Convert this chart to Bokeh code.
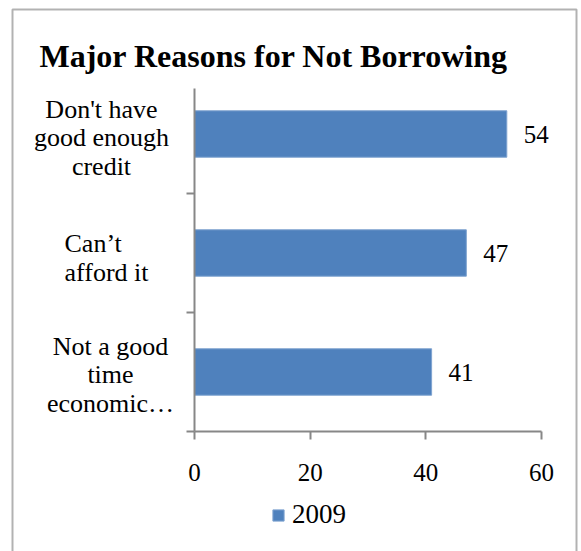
from bokeh.plotting import figure
from bokeh.models import (Range1d, FixedTicker, LabelSet, Label, ColumnDataSource,
                          BoxAnnotation, Legend, LegendItem)
from bokeh.embed import file_html
from bokeh.resources import INLINE

# ---- data ----
title_text = "Major Reasons for Not Borrowing"
categories = ["Don't have\ngood enough\ncredit", "Can’t\nafford it", "Not a good\ntime\neconomic…"]
values = [54, 47, 41]
series_name = "2009"
x_ticks = [0, 20, 40, 60]
x_max = 60

# ---- layout / styling ----
W, H = 581, 551
PLOT_LEFT, PLOT_RIGHT = 194, 541      # px of x=0 and x=60
PLOT_BOTTOM, BAND = 431, 119          # px of y=0 and px per category band
AXIS_TOP = 88                          # px where the category axis line starts
FONT = "Liberation Serif"
BAR = "#4F81BD"
AXIS = "#878787"
label_align = ["center", "left", "center"]
label_xoff = [-93, -130, -84]
label_yoff = [-4, -5, -3]

n = len(categories)
pos = [n - i - 0.5 for i in range(n)]
src = ColumnDataSource(dict(cat=categories, value=values, pos=pos,
                            label=[str(v) for v in values]))

ppx = (PLOT_RIGHT - PLOT_LEFT) / x_max
x_range = Range1d(-PLOT_LEFT / ppx, (W - PLOT_LEFT) / ppx)
y_range = Range1d(-(H - PLOT_BOTTOM) / BAND, PLOT_BOTTOM / BAND)
y_axis_top = (PLOT_BOTTOM - AXIS_TOP) / BAND

p = figure(width=W, height=H, output_backend="svg", toolbar_location=None,
           x_range=x_range, y_range=y_range,
           min_border=0, background_fill_color="white", border_fill_color="white")
p.outline_line_color = None
p.xgrid.visible = False
p.ygrid.visible = False

bars = p.hbar(y="pos", left=0, right="value", height=0.39, source=src,
              fill_color=BAR, line_color="#7FA3D0", line_width=1)

xa = p.xaxis[0]
xa.fixed_location = 0
xa.bounds = (0, x_max)
xa.ticker = FixedTicker(ticks=x_ticks)
xa.major_tick_in = 0
xa.major_tick_out = 8
xa.minor_tick_line_color = None
xa.axis_line_color = AXIS
xa.axis_line_width = 2
xa.major_tick_line_color = AXIS
xa.major_tick_line_width = 2
xa.major_label_text_font = FONT
xa.major_label_text_font_size = "25px"
xa.major_label_text_color = "black"
xa.major_label_standoff = 24

ya = p.yaxis[0]
ya.fixed_location = 0
ya.bounds = (0, y_axis_top)
ya.ticker = FixedTicker(ticks=list(range(n)))
ya.major_tick_in = 0
ya.major_tick_out = 8
ya.minor_tick_line_color = None
ya.axis_line_color = AXIS
ya.axis_line_width = 2
ya.major_tick_line_color = AXIS
ya.major_tick_line_width = 2
ya.major_label_text_color = None

# value labels
p.add_layout(LabelSet(x="value", y="pos", text="label", source=src, x_offset=17,
                      text_align="left", text_baseline="middle", text_font=FONT,
                      text_font_size="25px", text_color="black"))

# category labels
for i in range(n):
    p.add_layout(Label(x=0, y=pos[i], x_offset=label_xoff[i], y_offset=label_yoff[i],
                       text=categories[i], text_align=label_align[i],
                       text_baseline="middle", text_font=FONT,
                       text_font_size="26px", text_line_height=0.99,
                       text_color="black"))

# title
p.add_layout(Label(x=39, y=H - 55, x_units="screen", y_units="screen",
                   text=title_text, text_font=FONT, text_font_size="32px",
                   text_font_style="bold", text_baseline="alphabetic",
                   text_align="left", text_color="black"))

# outer chart border
p.add_layout(BoxAnnotation(left=12, right=576, top=H - 9, bottom=-20,
                           left_units="screen", right_units="screen",
                           top_units="screen", bottom_units="screen",
                           fill_alpha=0, line_color="black", line_width=2,
                           level="overlay"))

legend = Legend(items=[LegendItem(label=series_name, renderers=[bars])],
                location=(271, H - 530), orientation="horizontal", padding=0, margin=0,
                spacing=0, glyph_width=14, glyph_height=14, label_standoff=7,
                label_text_font=FONT, label_text_font_size="27px",
                label_text_color="black",
                border_line_color=None, background_fill_alpha=0)
p.add_layout(legend)

open("out.html", "w").write(file_html(p, INLINE))
